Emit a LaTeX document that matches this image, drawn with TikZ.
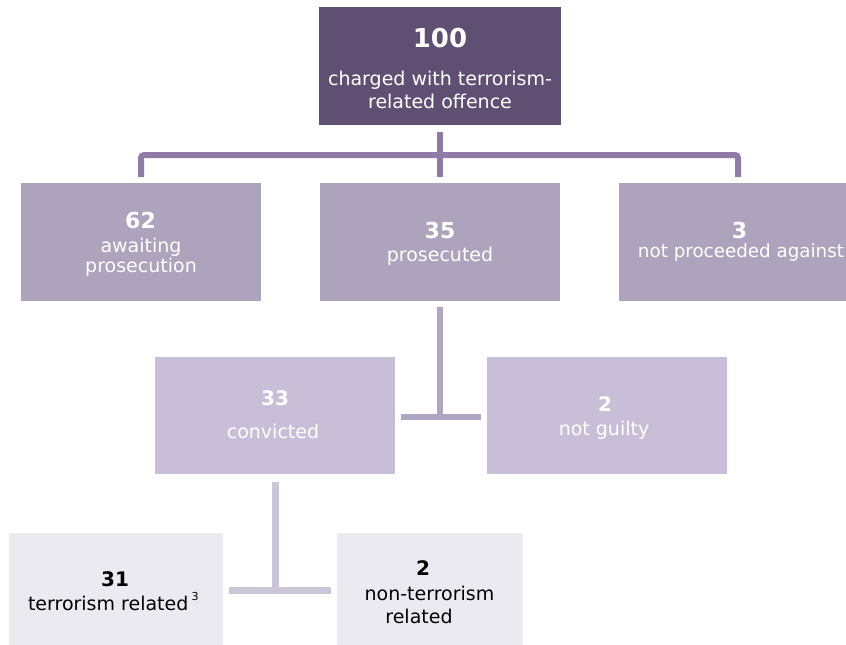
\documentclass[tikz,border=0pt]{standalone}
\usepackage{fontspec}
\setmainfont{DejaVu Sans}
\definecolor{boxA}{HTML}{5E4F73}
\definecolor{boxB}{HTML}{ADA3BC}
\definecolor{boxC}{HTML}{C8BED8}
\definecolor{boxD}{HTML}{ECEAF1}
\definecolor{lineA}{HTML}{8E7BAA}
\definecolor{lineB}{HTML}{B0A6C3}
\definecolor{lineC}{HTML}{CBC5D8}
\begin{document}
\begin{tikzpicture}[x=1pt,y=-1pt,
  box/.style={rectangle, draw=none, inner sep=0pt, outer sep=0pt},
  txt/.style={anchor=base, inner sep=0pt, outer sep=0pt},
  lab/.style={txt, font=\fontsize{19}{22}\selectfont},
  numbig/.style={txt, font=\bfseries\fontsize{26}{30}\selectfont},
  numB/.style={txt, font=\bfseries\fontsize{22}{26}\selectfont},
  numC/.style={txt, font=\bfseries\fontsize{20}{24}\selectfont},
  connA/.style={draw=lineA, line width=6pt},
  connB/.style={draw=lineB, line width=6pt},
  connC/.style={draw=lineC, line width=7pt}]
\useasboundingbox (0,0) rectangle (846,645);

% boxes
\node[box, fill=boxA, minimum width=242pt, minimum height=118pt] (top) at (440,66) {};
\node[box, fill=boxB, minimum width=240pt, minimum height=118pt] (n62) at (141,242) {};
\node[box, fill=boxB, minimum width=240pt, minimum height=118pt] (n35) at (440,242) {};
\node[box, fill=boxB, minimum width=227pt, minimum height=118pt] (n3) at (732.5,242) {};
\node[box, fill=boxC, minimum width=240pt, minimum height=117pt] (n33) at (275,415.5) {};
\node[box, fill=boxC, minimum width=240pt, minimum height=117pt] (n2a) at (607,415.5) {};
\node[box, fill=boxD, minimum width=214pt, minimum height=112pt] (n31) at (116,589) {};
\node[box, fill=boxD, minimum width=186pt, minimum height=112pt] (n2b) at (430,589) {};

% texts
\node[numbig, text=white] (t100) at (440,47) {100};
\node[lab, text=white] (t100a) at (440,85) {charged with terrorism-};
\node[lab, text=white] (t100b) at (440,108) {related offence};

\node[numB, text=white] (t62) at (140.5,228) {62};
\node[lab, text=white] (t62a) at (141,252) {awaiting};
\node[lab, text=white] (t62b) at (141,272) {prosecution};

\node[numB, text=white] (t35) at (440,238) {35};
\node[lab, text=white] (t35a) at (440,261) {prosecuted};

\node[numB, text=white] (t3) at (739.5,238) {3};
\node[lab, text=white, font=\fontsize{18.3}{22}\selectfont] (t3a) at (741,257) {not proceeded against};

\node[numC, text=white] (t33) at (275,405) {33};
\node[lab, text=white] (t33a) at (273,438) {convicted};

\node[numC, text=white] (t2a) at (605,411) {2};
\node[lab, text=white] (t2aa) at (604,435) {not guilty};

\node[numC, text=black] (t31) at (115,586) {31};
\node[lab, text=black, anchor=base west] (t31a) at (28,610) {terrorism related\,\raisebox{0.5em}{\fontsize{11}{12}\selectfont 3}};

\node[numC, text=black] (t2b) at (423,575) {2};
\node[lab, text=black] (t2ba) at (429.5,600) {non-terrorism};
\node[lab, text=black] (t2bb) at (419,623) {related};

% connectors
\coordinate (j1) at (440,155);
\coordinate (j2) at (440,417);
\coordinate (j3) at (275,590);

\draw[connA] ([yshift=-7pt]top.south) -- ([yshift=6pt]n35.north);
\draw[connA, rounded corners=3pt] ([yshift=6pt]n62.north) |- (j1) -| ([xshift=5.5pt,yshift=6pt]n3.north);

\draw[connB] ([yshift=-6pt]n35.south) -- (j2);
\draw[connB] ([xshift=6pt]n33.east |- j2) -- ([xshift=-6pt]n2a.west |- j2);

\draw[connC] ([yshift=-8pt]n33.south) -- (j3);
\draw[connC] ([xshift=6pt]n31.east |- j3) -- ([xshift=-6pt]n2b.west |- j3);
\end{tikzpicture}
\end{document}
